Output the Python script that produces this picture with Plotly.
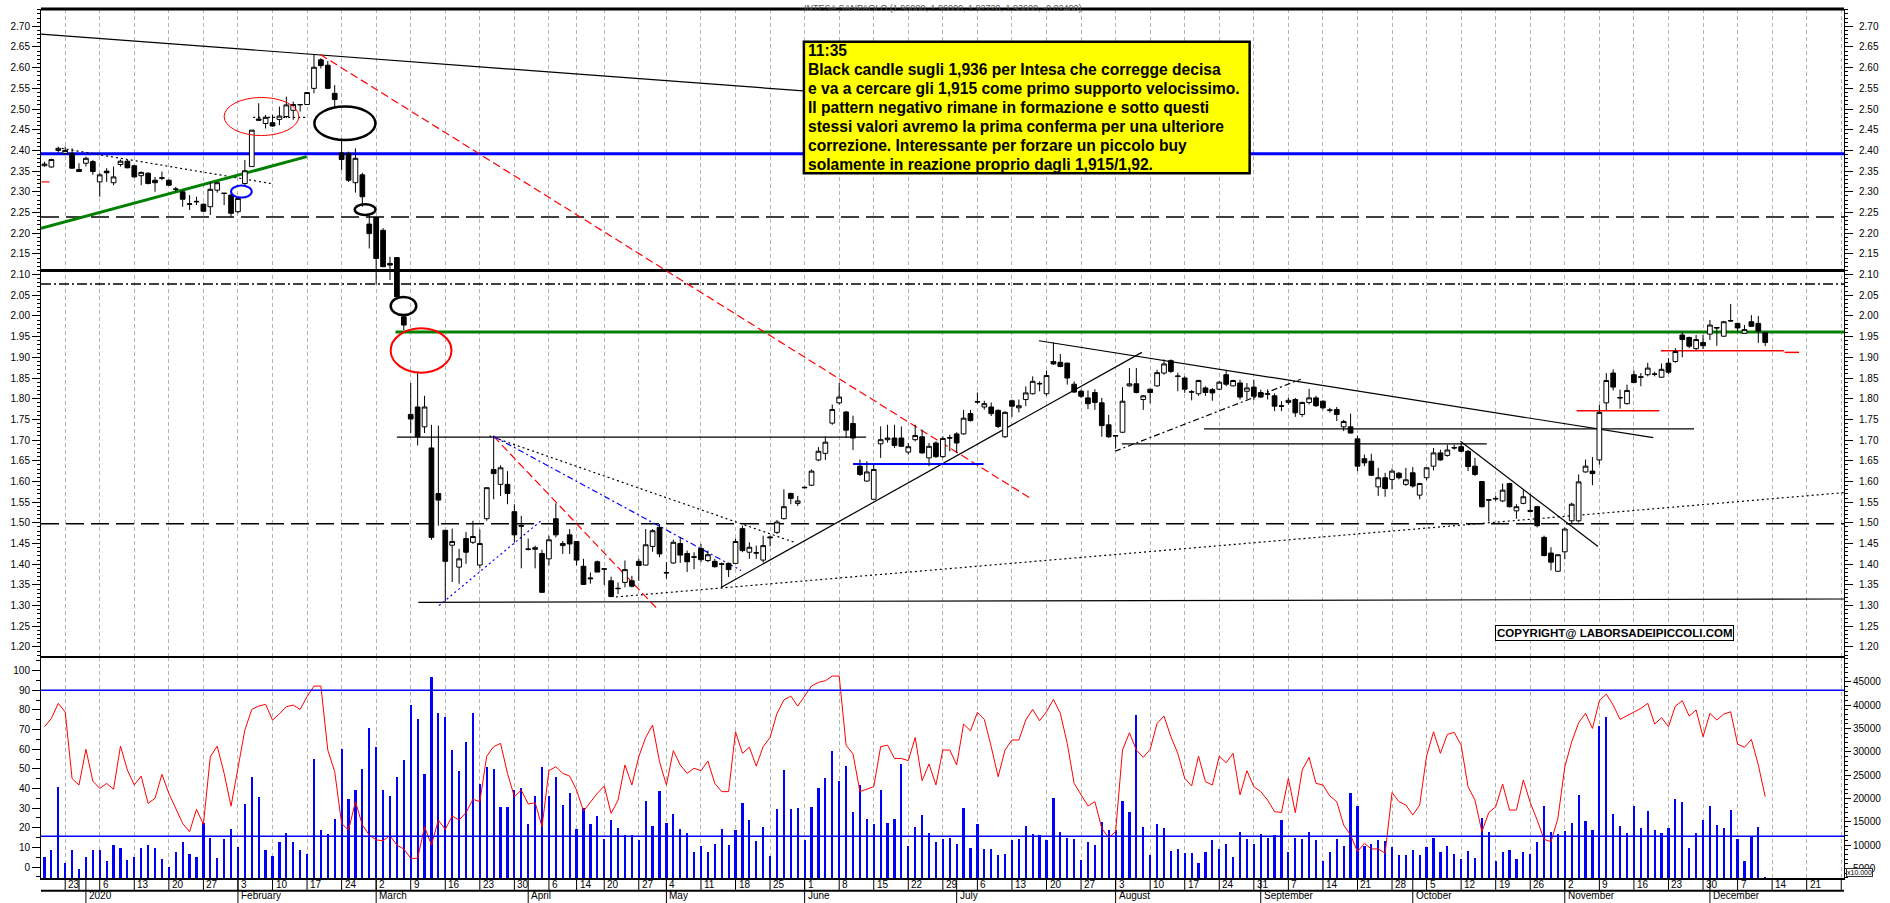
import pandas as pd
import plotly.graph_objects as go

# ---------------- calendar ----------------
holidays = pd.to_datetime(["2019-12-24", "2019-12-25", "2019-12-26", "2019-12-31", "2020-01-01",
                           "2020-04-10", "2020-04-13", "2020-05-01"])
trade_days = [d for d in pd.bdate_range("2019-12-18", "2020-12-11") if d not in holidays]
future_days = list(pd.bdate_range("2020-12-14", "2020-12-31"))
all_days = trade_days + future_days

# ---------------- OHLC ----------------
open_ = [2.363, 2.360, 2.400, 2.393, 2.393, 2.354, 2.369, 2.373, 2.324, 2.350,
         2.322, 2.366, 2.374, 2.363, 2.339, 2.345, 2.328, 2.334, 2.328, 2.307,
         2.300, 2.271, 2.277, 2.270, 2.264, 2.304, 2.297, 2.292, 2.252, 2.320,
         2.361, 2.476, 2.465, 2.467, 2.475, 2.482, 2.497, 2.510, 2.511, 2.550,
         2.619, 2.606, 2.538, 2.394, 2.393, 2.322, 2.341, 2.222, 2.238, 2.207,
         2.127, 2.141, 1.998, 1.762, 1.780, 1.732, 1.681, 1.571, 1.482, 1.446,
         1.393, 1.462, 1.453, 1.398, 1.510, 1.629, 1.593, 1.593, 1.527, 1.494,
         1.437, 1.436, 1.426, 1.413, 1.510, 1.445, 1.471, 1.455, 1.395, 1.367,
         1.406, 1.389, 1.360, 1.342, 1.356, 1.360, 1.407, 1.398, 1.443, 1.489,
         1.380, 1.403, 1.450, 1.426, 1.418, 1.438, 1.409, 1.407, 1.401, 1.402,
         1.402, 1.486, 1.429, 1.428, 1.410, 1.466, 1.477, 1.510, 1.571, 1.547,
         1.586, 1.591, 1.652, 1.668, 1.741, 1.790, 1.768, 1.740, 1.637, 1.601,
         1.557, 1.691, 1.701, 1.705, 1.705, 1.671, 1.701, 1.708, 1.657, 1.693,
         1.660, 1.706, 1.715, 1.715, 1.764, 1.793, 1.780, 1.780, 1.772, 1.708,
         1.795, 1.778, 1.798, 1.812, 1.837, 1.812, 1.890, 1.888, 1.886, 1.835,
         1.818, 1.802, 1.815, 1.790, 1.737, 1.711, 1.719, 1.831, 1.836, 1.798,
         1.823, 1.831, 1.862, 1.892, 1.855, 1.850, 1.817, 1.812, 1.826, 1.822,
         1.823, 1.858, 1.831, 1.838, 1.818, 1.828, 1.815, 1.812, 1.807, 1.783,
         1.791, 1.798, 1.762, 1.791, 1.802, 1.794, 1.773, 1.774, 1.732, 1.732,
         1.703, 1.655, 1.649, 1.587, 1.609, 1.605, 1.620, 1.593, 1.621, 1.567,
         1.609, 1.637, 1.669, 1.663, 1.682, 1.684, 1.673, 1.637, 1.600, 1.556,
         1.559, 1.553, 1.595, 1.529, 1.547, 1.530, 1.539, 1.465, 1.427, 1.383,
         1.430, 1.505, 1.505, 1.623, 1.625, 1.652, 1.790, 1.862, 1.803, 1.788,
         1.858, 1.853, 1.858, 1.860, 1.852, 1.886, 1.890, 1.954, 1.948, 1.921,
         1.936, 1.956, 1.972, 1.951, 1.989, 1.982, 1.958, 1.986, 1.982, 1.960]
high = [2.373, 2.380, 2.409, 2.409, 2.405, 2.369, 2.385, 2.377, 2.345, 2.357,
        2.361, 2.378, 2.377, 2.365, 2.349, 2.347, 2.336, 2.349, 2.330, 2.312,
        2.304, 2.292, 2.288, 2.272, 2.324, 2.324, 2.297, 2.296, 2.288, 2.377,
        2.449, 2.514, 2.486, 2.486, 2.506, 2.530, 2.518, 2.511, 2.540, 2.631,
        2.623, 2.616, 2.558, 2.425, 2.397, 2.405, 2.346, 2.244, 2.238, 2.212,
        2.143, 2.141, 2.002, 1.838, 1.866, 1.807, 1.737, 1.735, 1.482, 1.486,
        1.437, 1.478, 1.505, 1.484, 1.585, 1.711, 1.639, 1.625, 1.545, 1.517,
        1.462, 1.445, 1.435, 1.469, 1.547, 1.456, 1.485, 1.455, 1.413, 1.380,
        1.409, 1.391, 1.370, 1.356, 1.409, 1.372, 1.413, 1.485, 1.485, 1.497,
        1.405, 1.459, 1.465, 1.433, 1.429, 1.449, 1.433, 1.413, 1.404, 1.404,
        1.462, 1.493, 1.453, 1.445, 1.469, 1.469, 1.507, 1.581, 1.573, 1.565,
        1.588, 1.629, 1.683, 1.709, 1.786, 1.838, 1.770, 1.759, 1.653, 1.649,
        1.641, 1.733, 1.737, 1.737, 1.733, 1.693, 1.737, 1.725, 1.693, 1.697,
        1.709, 1.713, 1.719, 1.773, 1.773, 1.815, 1.795, 1.791, 1.774, 1.770,
        1.798, 1.798, 1.830, 1.854, 1.842, 1.868, 1.936, 1.908, 1.887, 1.842,
        1.822, 1.820, 1.823, 1.802, 1.761, 1.711, 1.828, 1.874, 1.874, 1.809,
        1.823, 1.870, 1.895, 1.895, 1.863, 1.854, 1.821, 1.846, 1.830, 1.826,
        1.842, 1.868, 1.846, 1.846, 1.838, 1.846, 1.822, 1.823, 1.813, 1.794,
        1.802, 1.802, 1.793, 1.824, 1.807, 1.796, 1.778, 1.780, 1.749, 1.764,
        1.711, 1.665, 1.667, 1.633, 1.621, 1.631, 1.623, 1.633, 1.635, 1.597,
        1.635, 1.681, 1.677, 1.689, 1.689, 1.693, 1.676, 1.657, 1.600, 1.557,
        1.565, 1.595, 1.597, 1.545, 1.581, 1.569, 1.541, 1.469, 1.441, 1.423,
        1.489, 1.549, 1.617, 1.653, 1.659, 1.785, 1.862, 1.871, 1.822, 1.834,
        1.868, 1.862, 1.887, 1.865, 1.885, 1.898, 1.922, 1.962, 1.950, 1.954,
        1.954, 1.990, 1.973, 1.988, 2.029, 1.984, 1.978, 2.002, 2.000, 1.960]
low = [2.361, 2.358, 2.395, 2.390, 2.357, 2.348, 2.361, 2.341, 2.288, 2.324,
       2.316, 2.361, 2.357, 2.334, 2.316, 2.318, 2.300, 2.328, 2.314, 2.300,
       2.264, 2.256, 2.268, 2.252, 2.244, 2.298, 2.268, 2.240, 2.248, 2.316,
       2.361, 2.472, 2.453, 2.457, 2.461, 2.478, 2.474, 2.494, 2.510, 2.538,
       2.598, 2.548, 2.506, 2.353, 2.324, 2.298, 2.264, 2.163, 2.076, 2.119,
       2.087, 2.046, 1.966, 1.717, 1.687, 1.717, 1.459, 1.493, 1.310, 1.357,
       1.353, 1.401, 1.449, 1.390, 1.505, 1.557, 1.565, 1.545, 1.453, 1.390,
       1.433, 1.390, 1.332, 1.397, 1.465, 1.425, 1.425, 1.397, 1.351, 1.353,
       1.381, 1.350, 1.320, 1.328, 1.344, 1.344, 1.360, 1.397, 1.430, 1.417,
       1.365, 1.401, 1.403, 1.381, 1.388, 1.405, 1.405, 1.392, 1.344, 1.369,
       1.401, 1.429, 1.413, 1.413, 1.404, 1.443, 1.473, 1.508, 1.545, 1.541,
       1.583, 1.589, 1.649, 1.652, 1.737, 1.786, 1.705, 1.676, 1.613, 1.599,
       1.557, 1.657, 1.694, 1.681, 1.685, 1.665, 1.697, 1.667, 1.637, 1.657,
       1.657, 1.673, 1.669, 1.713, 1.745, 1.788, 1.774, 1.758, 1.729, 1.705,
       1.756, 1.767, 1.782, 1.810, 1.818, 1.807, 1.882, 1.876, 1.834, 1.814,
       1.802, 1.775, 1.773, 1.708, 1.705, 1.679, 1.717, 1.829, 1.813, 1.773,
       1.789, 1.829, 1.858, 1.862, 1.818, 1.814, 1.796, 1.807, 1.807, 1.795,
       1.821, 1.830, 1.830, 1.798, 1.798, 1.796, 1.802, 1.798, 1.770, 1.770,
       1.786, 1.756, 1.756, 1.786, 1.780, 1.774, 1.766, 1.746, 1.722, 1.716,
       1.625, 1.637, 1.613, 1.565, 1.563, 1.581, 1.605, 1.589, 1.585, 1.557,
       1.603, 1.627, 1.650, 1.660, 1.677, 1.671, 1.625, 1.613, 1.537, 1.503,
       1.553, 1.550, 1.537, 1.510, 1.545, 1.525, 1.489, 1.419, 1.385, 1.382,
       1.412, 1.499, 1.501, 1.621, 1.591, 1.641, 1.772, 1.820, 1.776, 1.786,
       1.838, 1.830, 1.854, 1.854, 1.850, 1.860, 1.887, 1.900, 1.922, 1.917,
       1.920, 1.942, 1.928, 1.950, 1.986, 1.962, 1.958, 1.974, 1.935, 1.9272]
close = [2.367, 2.378, 2.405, 2.400, 2.357, 2.349, 2.381, 2.349, 2.341, 2.346,
         2.336, 2.374, 2.358, 2.336, 2.347, 2.320, 2.322, 2.333, 2.316, 2.306,
         2.282, 2.270, 2.276, 2.253, 2.306, 2.322, 2.296, 2.248, 2.284, 2.351,
         2.449, 2.473, 2.480, 2.459, 2.483, 2.510, 2.511, 2.511, 2.540, 2.601,
         2.605, 2.550, 2.523, 2.378, 2.328, 2.381, 2.288, 2.199, 2.139, 2.119,
         2.123, 2.046, 1.978, 1.751, 1.708, 1.780, 1.465, 1.555, 1.407, 1.455,
         1.413, 1.429, 1.467, 1.450, 1.585, 1.619, 1.633, 1.571, 1.471, 1.492,
         1.436, 1.440, 1.332, 1.459, 1.471, 1.450, 1.449, 1.410, 1.351, 1.365,
         1.381, 1.388, 1.322, 1.341, 1.387, 1.347, 1.397, 1.447, 1.481, 1.425,
         1.379, 1.453, 1.422, 1.406, 1.417, 1.411, 1.423, 1.394, 1.400, 1.387,
         1.455, 1.433, 1.441, 1.427, 1.445, 1.464, 1.502, 1.539, 1.559, 1.553,
         1.585, 1.625, 1.673, 1.695, 1.774, 1.804, 1.724, 1.705, 1.617, 1.623,
         1.629, 1.701, 1.705, 1.687, 1.685, 1.684, 1.711, 1.669, 1.685, 1.660,
         1.704, 1.705, 1.693, 1.753, 1.747, 1.792, 1.788, 1.764, 1.733, 1.767,
         1.782, 1.783, 1.814, 1.842, 1.836, 1.856, 1.884, 1.878, 1.850, 1.816,
         1.806, 1.788, 1.791, 1.735, 1.708, 1.710, 1.794, 1.836, 1.815, 1.807,
         1.815, 1.863, 1.884, 1.866, 1.854, 1.823, 1.816, 1.844, 1.815, 1.814,
         1.840, 1.835, 1.844, 1.804, 1.826, 1.806, 1.804, 1.811, 1.782, 1.782,
         1.796, 1.766, 1.791, 1.802, 1.783, 1.778, 1.772, 1.762, 1.745, 1.717,
         1.637, 1.645, 1.615, 1.609, 1.583, 1.625, 1.609, 1.604, 1.589, 1.595,
         1.633, 1.669, 1.652, 1.676, 1.681, 1.673, 1.636, 1.617, 1.539, 1.555,
         1.558, 1.579, 1.539, 1.539, 1.563, 1.528, 1.493, 1.421, 1.405, 1.423,
         1.485, 1.545, 1.599, 1.637, 1.619, 1.767, 1.844, 1.828, 1.802, 1.820,
         1.839, 1.852, 1.874, 1.859, 1.871, 1.864, 1.914, 1.943, 1.927, 1.943,
         1.928, 1.978, 1.971, 1.986, 1.988, 1.971, 1.967, 1.975, 1.963, 1.936]

volume = [7357, 8929, 22500, 6214, 8929, 4857, 7357, 8929, 8857, 6571,
          10000, 9430, 6786, 7500, 9286, 10000, 9286, 7000, 5214, 8571,
          10571, 8071, 7429, 14643, 11429, 7286, 11286, 13429, 9500, 18786,
          24571, 20286, 8929, 7571, 10714, 12571, 10643, 8929, 8071, 28429,
          13214, 12357, 15571, 30500, 19929, 21786, 26286, 35071, 31000, 21786,
          20500, 24571, 28214, 39929, 37000, 25143, 45929, 38214, 37357, 30357,
          25929, 32000, 38214, 23071, 26714, 26286, 18214, 18214, 21786, 22143,
          14500, 20500, 26714, 20500, 24571, 18571, 21143, 13357, 17857, 14571,
          16214, 11214, 15357, 13571, 12143, 12071, 11071, 19500, 14071, 21500,
          14714, 16643, 13429, 12643, 8571, 9786, 8500, 10143, 13357, 10000,
          13143, 19000, 15286, 10857, 13786, 7643, 17643, 26071, 17643, 17929,
          11000, 18143, 22214, 24429, 30143, 23786, 26857, 17071, 22929, 15571,
          14429, 21786, 14643, 15571, 27429, 9857, 13786, 16429, 12571, 10571,
          11286, 11429, 10143, 17929, 9429, 14500, 9143, 9143, 7857, 8143,
          11000, 11214, 14000, 12357, 12143, 11000, 20071, 12786, 11500, 11214,
          6786, 10643, 10000, 14857, 13143, 13214, 19357, 17000, 37857, 13786,
          7857, 14500, 13643, 8714, 9143, 8286, 8357, 6071, 8571, 11000,
          9143, 10214, 7357, 12714, 11286, 10143, 12357, 11429, 12071, 15286,
          8571, 11429, 11286, 12714, 11071, 6643, 8571, 11214, 9786, 21071,
          18357, 9786, 10214, 11000, 10857, 9643, 7857, 7929, 8929, 7857,
          9500, 11429, 8429, 9786, 8071, 7000, 8714, 7214, 15857, 12786,
          6500, 8500, 8857, 7000, 8500, 8071, 10643, 18357, 12857, 12357,
          13000, 14714, 20643, 15071, 13143, 35500, 37500, 16571, 14071, 12500,
          18429, 13643, 17214, 13286, 12500, 13643, 19786, 19143, 9286, 12500,
          15286, 18357, 14214, 13643, 17500, 11357, 6571, 11786, 13786, 3071]

oscillator = [71.5, 75.7, 83.4, 79.0, 45.0, 41.8, 60.0, 43.8, 40.0, 42.6,
              39.6, 61.6, 49.4, 41.8, 46.3, 32.4, 35.0, 47.2, 37.5, 29.9,
              22.2, 18.0, 29.4, 21.7, 56.2, 61.6, 47.7, 31.0, 51.1, 69.8,
              80.3, 82.0, 82.9, 74.9, 78.0, 81.7, 82.5, 80.3, 86.8, 92.2,
              92.2, 59.6, 48.6, 22.2, 18.8, 33.3, 21.4, 16.3, 13.8, 13.4,
              16.0, 11.2, 9.2, 4.4, 4.4, 20.5, 11.2, 23.9, 19.2, 26.0,
              23.9, 27.7, 34.5, 33.3, 56.5, 61.3, 63.0, 47.7, 35.8, 39.2,
              32.1, 32.8, 20.5, 49.1, 51.1, 47.7, 46.3, 39.2, 28.5, 33.3,
              37.5, 41.3, 27.3, 34.1, 52.0, 41.8, 56.2, 66.0, 72.3, 53.7,
              41.8, 59.3, 52.0, 47.7, 50.3, 49.1, 54.0, 42.6, 38.4, 38.4,
              68.9, 57.9, 61.0, 51.4, 61.3, 66.0, 78.3, 85.1, 87.1, 82.0,
              86.8, 92.2, 94.1, 94.9, 97.3, 97.3, 62.1, 57.6, 38.4, 39.6,
              40.9, 61.3, 62.1, 55.3, 55.3, 54.2, 66.0, 44.0, 52.5, 41.8,
              59.6, 59.6, 52.0, 72.8, 69.4, 78.8, 75.2, 61.3, 46.0, 59.6,
              64.7, 64.7, 74.9, 80.3, 74.5, 79.1, 85.4, 78.3, 63.0, 42.6,
              36.7, 31.1, 33.3, 19.7, 14.9, 18.0, 59.6, 68.4, 59.6, 55.9,
              59.9, 73.2, 76.9, 66.4, 57.9, 45.2, 41.3, 56.5, 43.5, 41.8,
              56.5, 53.1, 57.9, 36.7, 49.1, 40.9, 38.4, 34.1, 28.2, 27.8,
              45.2, 27.7, 49.4, 55.9, 42.6, 41.8, 36.2, 33.3, 21.4, 16.3,
              7.8, 12.1, 9.2, 9.2, 7.0, 37.9, 33.3, 31.6, 26.5, 31.6,
              56.5, 68.9, 57.9, 67.6, 68.6, 62.1, 40.9, 34.1, 18.0, 27.7,
              30.7, 42.3, 29.0, 29.0, 44.3, 32.8, 23.9, 14.1, 12.9, 24.8,
              51.1, 63.8, 73.5, 78.3, 70.6, 84.7, 88.1, 82.5, 75.2, 77.1,
              79.1, 80.8, 83.4, 72.8, 76.1, 71.5, 82.0, 84.7, 76.9, 80.0,
              66.4, 78.3, 74.9, 77.9, 79.1, 62.6, 61.0, 65.0, 52.0, 35.8]

# ---------------- drawn levels / trendlines (index, price) ----------------
level_blue = 2.392
level_dash_hi = 2.239
level_thick = 2.11
level_dashdot = 2.077
level_green = 1.961
level_green_start = 50.8
level_dash_lo = 1.498
osc_levels = [90, 15.7]
volume_ticks = [5000, 10000, 15000, 20000, 25000, 30000, 35000, 40000, 45000]

black_lines = [(-0.5, 109.8, 2.681, 2.544), (51.0, 118.9, 1.707, 1.707), (54.1, 260.4, 1.308, 1.316),
               (97.9, 158.8, 1.344, 1.912), (143.9, 232.8, 1.94, 1.706), (167.8, 238.7, 1.727, 1.727),
               (155.9, 208.7, 1.691, 1.691), (204.9, 224.8, 1.697, 1.443)]
black_dotted = [(2.5, 32.8, 2.405, 2.32), (30.2, 37.9, 2.48, 2.48), (64.4, 108.5, 1.71, 1.453),
                (82.7, 260.4, 1.321, 1.573)]
black_dashdot = [(154.9, 181.8, 1.673, 1.847)]
red_dashed = [(39.9, 142.8, 2.632, 1.558), (65.0, 88.8, 1.709, 1.29), (-0.43, 0.87, 2.324, 2.324)]
red_solid = [(221.7, 233.7, 1.771, 1.771), (233.9, 251.7, 1.916, 1.916), (251.8, 253.9, 1.912, 1.912)]
blue_dashdot = [(65.0, 100.8, 1.709, 1.385)]
blue_dotted = [(57.1, 72.0, 1.30, 1.507)]
blue_solid = [(117.0, 135.9, 1.642, 1.642)]
green_solid = [(-0.5, 37.95, 2.212, 2.385)]
# ellipses (i0, i1, p0, p1)
ellipse_red_thin = [(26.0, 36.8, 2.436, 2.528)]
ellipse_red = [(50.1, 58.9, 1.863, 1.97)]
ellipse_black = [(39.05, 47.9, 2.425, 2.506), (44.9, 47.9, 2.244, 2.27), (50.1, 53.8, 2.002, 2.046)]
ellipse_blue = [(27.0, 30.0, 2.286, 2.315)]

title_text = "INTESA SANPAOLO (1.96000, 1.96000, 1.92720, 1.93600, -0.02400)"
comment_lines = ["11:35",
                 "Black candle sugli 1,936 per Intesa che corregge decisa",
                 "e va a cercare gli 1,915 come primo supporto velocissimo.",
                 "Il pattern negativo rimane in formazione e sotto questi",
                 "stessi valori avremo la prima conferma per una ulteriore",
                 "correzione. Interessante per forzare un piccolo buy",
                 "solamente in reazione proprio dagli 1,915/1,92."]
copyright_text = "COPYRIGHT@ LABORSADEIPICCOLI.COM"
month_names = ["2020", "February", "March", "April", "May", "June", "July", "August",
               "September", "October", "November", "December"]

# ---------------- geometry ----------------
W, H = 1890, 903
ML, MR, MT, MB = 41, 41, 9, 25
PW, PH = W - ML - MR, H - MT - MB
SPLIT = (878 - 657) / PH
X_RANGE = [-0.5, 260.4]
P_RANGE = [1.1758, 2.7418]
O_RANGE = [-5.6, 107.0]
V_RANGE = [2928, 50294]
FONT = "Liberation Sans, Arial, sans-serif"


def px2paper_x(px):
    return (px - ML) / PW


def px2paper_y(py):
    return (H - MB - py) / PH


idx = list(range(len(trade_days)))

# first trading day of each week
week_firsts = []
seen = set()
for i, d in enumerate(all_days):
    key = (d - pd.Timedelta(days=d.weekday())).date()
    if key not in seen:
        seen.add(key)
        if i > 0:
            week_firsts.append(i)
newyear_week = [i for i in week_firsts if all_days[i] == pd.Timestamp("2019-12-30")]
week_starts = [i for i in week_firsts if i not in newyear_week]   # gridlines + labels
month_starts = []
seen_m = set()
for i, d in enumerate(trade_days):
    if d.year == 2020 and d.month not in seen_m:
        seen_m.add(d.month)
        month_starts.append(i)

fig = go.Figure()
fig.add_trace(go.Candlestick(
    x=idx, open=open_, high=high, low=low, close=close, xaxis="x", yaxis="y",
    increasing=dict(line=dict(color="black", width=1), fillcolor="white"),
    decreasing=dict(line=dict(color="black", width=1), fillcolor="black"),
    whiskerwidth=0, showlegend=False, hoverinfo="skip"))
fig.add_trace(go.Scatter(x=[X_RANGE[0]], y=[P_RANGE[0]], xaxis="x", yaxis="y3", mode="markers",
                         marker=dict(opacity=0), showlegend=False, hoverinfo="skip"))
fig.add_trace(go.Bar(x=idx, y=volume, xaxis="x2", yaxis="y2", width=0.32,
                     marker=dict(color="#0000ff", line=dict(width=0)), showlegend=False, hoverinfo="skip"))
fig.add_trace(go.Scatter(x=idx, y=oscillator, xaxis="x2", yaxis="y4", mode="lines",
                         line=dict(color="#ff0000", width=1), showlegend=False, hoverinfo="skip"))

shapes = []


def seg(x0, x1, y0, y1, color, width, dash="solid", xref="x", yref="y", layer="between"):
    shapes.append(dict(type="line", x0=x0, x1=x1, y0=y0, y1=y1, xref=xref, yref=yref, layer=layer,
                       line=dict(color=color, width=width, dash=dash)))


XE = X_RANGE[1]
XS = X_RANGE[0]
seg(XS, XE, level_blue, level_blue, "#0000ff", 3)
seg(XS, XE, level_dash_hi, level_dash_hi, "black", 1.5, "18px,7px")
seg(XS, XE, level_thick, level_thick, "black", 3)
seg(XS, XE, level_dashdot, level_dashdot, "black", 1.5, "10px,3px,2px,3px")
seg(level_green_start, XE, level_green, level_green, "#008000", 3)
seg(XS, XE, level_dash_lo, level_dash_lo, "black", 1.5, "18px,7px")
for a, b, c, d in black_lines:
    seg(a, b, c, d, "black", 1.2)
for a, b, c, d in black_dotted:
    seg(a, b, c, d, "black", 1.2, "2px,3px")
for a, b, c, d in black_dashdot:
    seg(a, b, c, d, "black", 1.2, "6px,3px,2px,3px")
for a, b, c, d in red_dashed:
    seg(a, b, c, d, "#ff0000", 1.2, "8px,4px")
for a, b, c, d in red_solid:
    seg(a, b, c, d, "#ff0000", 1.5)
for a, b, c, d in blue_dashdot:
    seg(a, b, c, d, "#0000ff", 1.2, "6px,3px,2px,3px")
for a, b, c, d in blue_dotted:
    seg(a, b, c, d, "#0000ff", 1.2, "2px,3px")
for a, b, c, d in blue_solid:
    seg(a, b, c, d, "#0000ff", 2)
for a, b, c, d in green_solid:
    seg(a, b, c, d, "#008000", 3)


def ell(items, color, width):
    for a, b, c, d in items:
        shapes.append(dict(type="circle", x0=a, x1=b, y0=c, y1=d, xref="x", yref="y", layer="above",
                           line=dict(color=color, width=width)))


ell(ellipse_red_thin, "#ff0000", 1)
ell(ellipse_red, "#ff0000", 2)
ell(ellipse_black, "black", 2.5)
ell(ellipse_blue, "#0000ff", 2)

# lower panel levels (oscillator scale)
for lv in osc_levels:
    seg(XS, XE, lv, lv, "#0000ff", 1.5, xref="x2", yref="y4", layer="above")

# borders
seg(0, 1, 1, 1, "black", 3, xref="paper", yref="paper", layer="above")
seg(0, 1, SPLIT, SPLIT, "black", 2, xref="paper", yref="paper", layer="above")
row_sep = px2paper_y(890.7)
row_bot = px2paper_y(903)
seg(0, 1, row_sep, row_sep, "black", 2, xref="paper", yref="paper", layer="above")
for i in week_firsts:
    seg(i, i, 0, row_sep, "black", 1, xref="x2", yref="paper", layer="above")
for i in month_starts:
    seg(i, i, 0, row_bot, "black", 1, xref="x2", yref="paper", layer="above")

# yellow comment box
shapes.append(dict(type="rect", xref="paper", yref="paper", layer="above",
                   x0=px2paper_x(806), x1=px2paper_x(1253), y0=px2paper_y(173.3), y1=px2paper_y(41.7),
                   fillcolor="#ffff00", line=dict(color="black", width=2.5)))

annotations = []
line_y = [50.5, 69.3, 88.3, 107.3, 126.2, 145.1, 164.0]
for txt, yy in zip(comment_lines, line_y):
    annotations.append(dict(text=txt, xref="paper", yref="paper", x=px2paper_x(808), y=px2paper_y(yy),
                            xanchor="left", yanchor="middle", showarrow=False,
                            font=dict(family="Liberation Sans, Arial, sans-serif",
                                      size=15.6, color="black", weight="bold")))
annotations.append(dict(text=title_text, xref="paper", yref="paper", x=px2paper_x(945), y=px2paper_y(8),
                        xanchor="center", yanchor="middle", showarrow=False,
                        font=dict(family=FONT, size=9, color="#555555")))
annotations.append(dict(text="<b>" + copyright_text + "</b>", xref="paper", yref="paper",
                        x=px2paper_x(1618.5), y=px2paper_y(632.6), xanchor="center", yanchor="middle",
                        showarrow=False, bgcolor="white", bordercolor="black", borderwidth=1, borderpad=1,
                        font=dict(family=FONT, size=11.5, color="black")))
annotations.append(dict(text="x10.000", xref="paper", yref="paper", x=px2paper_x(1865), y=px2paper_y(872),
                        xanchor="center", yanchor="middle", showarrow=False, bgcolor="white",
                        bordercolor="#333333", borderwidth=1, borderpad=0,
                        font=dict(family=FONT, size=7, color="black")))
for i in week_starts:
    if i > 258:
        continue
    annotations.append(dict(text=str(all_days[i].day), xref="x2", yref="paper", x=i, y=px2paper_y(884.3),
                            xanchor="left", yanchor="middle", xshift=1, showarrow=False,
                            font=dict(family=FONT, size=10, color="black")))
for name, i in zip(month_names, month_starts):
    annotations.append(dict(text=name, xref="x2", yref="paper", x=i, y=px2paper_y(895.0),
                            xanchor="left", yanchor="middle", xshift=1, showarrow=False,
                            font=dict(family=FONT, size=10, color="black")))

tickfont = dict(family=FONT, size=10, color="black")
xgrid = dict(range=X_RANGE, showgrid=True, gridcolor="#b4b4b4", gridwidth=1, griddash="4px,3px",
             tickmode="array", tickvals=week_starts, showticklabels=False, ticks="", zeroline=False,
             fixedrange=True)
price_axis = dict(range=P_RANGE, tickmode="linear", tick0=1.2, dtick=0.05, tickformat=".2f",
                  ticks="outside", ticklen=8, tickcolor="black", showline=True, linecolor="black",
                  linewidth=1, showgrid=False, zeroline=False, tickfont=tickfont, fixedrange=True,
                  minor=dict(dtick=0.01, tick0=1.2, ticks="outside", ticklen=3, tickcolor="black"))

fig.update_layout(
    width=W, height=H, margin=dict(l=ML, r=MR, t=MT, b=MB),
    paper_bgcolor="white", plot_bgcolor="white", showlegend=False,
    boxgap=0.2, boxgroupgap=0.15, bargap=0,
    xaxis=dict(domain=[0, 1], anchor="y", rangeslider=dict(visible=False), **xgrid),
    xaxis2=dict(domain=[0, 1], anchor="y2", matches="x", showline=True, linecolor="black", linewidth=2,
                **xgrid),
    yaxis=dict(domain=[SPLIT, 1], anchor="x", side="left", **price_axis),
    yaxis3=dict(overlaying="y", anchor="x", side="right", ticklabelstandoff=4, **price_axis),
    yaxis2=dict(domain=[0, SPLIT], anchor="x2", side="right", range=V_RANGE, tickmode="array",
                tickvals=volume_ticks, ticktext=[str(v) for v in volume_ticks],
                ticks="outside", ticklen=6, tickcolor="black",
                showline=True, linecolor="black", showgrid=False, zeroline=False, tickfont=tickfont,
                fixedrange=True, minor=dict(dtick=1000, tick0=0, ticks="outside", ticklen=3, tickcolor="black")),
    yaxis4=dict(overlaying="y2", anchor="x2", side="left", range=O_RANGE, tickmode="linear", tick0=0,
                dtick=10, ticks="outside", ticklen=8, tickcolor="black", showline=True, linecolor="black",
                showgrid=False, zeroline=False, tickfont=tickfont, fixedrange=True,
                minor=dict(dtick=5, tick0=0, ticks="outside", ticklen=4, tickcolor="black")),
    shapes=shapes, annotations=annotations,
)
fig.write_html("out.html", config={"displayModeBar": False, "staticPlot": True},
               post_script="document.body.style.margin='0px';document.body.style.padding='0px';"
                           "document.body.style.overflow='hidden';")
